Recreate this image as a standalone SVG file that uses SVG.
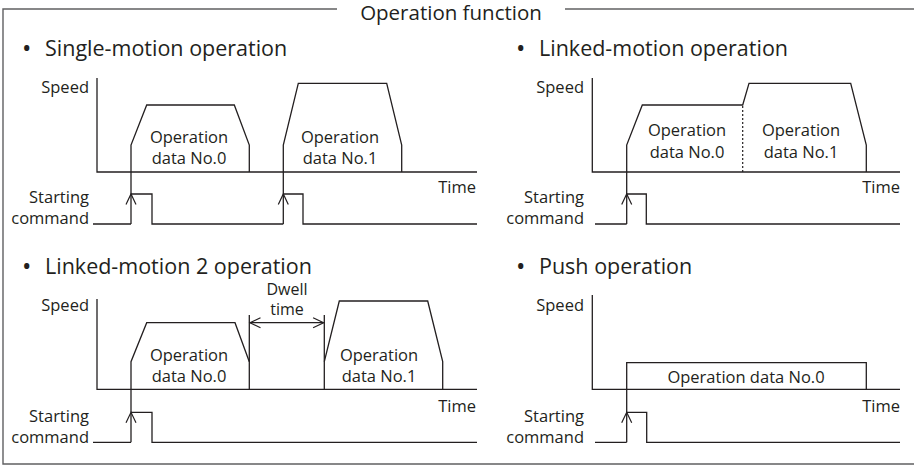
<svg xmlns="http://www.w3.org/2000/svg" width="914" height="466" viewBox="0 0 914 466">
<style>
.ln{fill:none;stroke:#231f20;stroke-width:1.3}
.fr{fill:none;stroke:#606062;stroke-width:1.4}
.dot{fill:none;stroke:#231f20;stroke-width:1.2;stroke-dasharray:2 2}
text{font-family:"Open Sans","Noto Sans",sans-serif;font-size:16.5px;fill:#231f20}
.h{font-size:21.5px}
.r{text-anchor:end}
.c{text-anchor:middle}
.b{font-size:25px}
.d{font-size:16px}
</style>
<defs>
<marker id="oa" markerUnits="userSpaceOnUse" markerWidth="14" markerHeight="14" viewBox="-12 -7 14 14" refX="0" refY="0" orient="auto-start-reverse" overflow="visible">
<path d="M-10.5,-5 L0,0 L-10.5,5" fill="none" stroke="#231f20" stroke-width="1.2"/>
</marker>
</defs>
<rect width="914" height="466" fill="#ffffff"/>
<g id="frame">
<path class="fr" d="M337,9 H3 V464 H916"/>
<path class="fr" d="M565,9 H916"/>
<text class="h c" x="451" y="20" style="font-size:20.5px">Operation function</text>
</g>
<g id="single-motion">
<text class="h"><tspan class="b" x="22" y="57">•</tspan><tspan x="45" y="56">Single-motion operation</tspan></text>
<path class="ln" d="M97,78 V172 H477"/>
<text class="r" x="89" y="93">Speed</text>
<text class="r" x="476" y="193">Time</text>
<path class="ln" d="M131,194 V145 L146.7,105 H234.3 L249.3,145 V172"/>
<path class="ln" d="M283.3,194 V145 L298.3,83.3 H386.7 L401.7,145 V172"/>
<text class="c" x="189" y="143">Operation</text>
<text class="c" x="189" y="164">data No.0</text>
<text class="c" x="340" y="143">Operation</text>
<text class="c" x="340" y="164">data No.1</text>
<text class="r" x="89" y="203">Starting</text>
<text class="r" x="89" y="224">command</text>
<path class="ln" d="M93,224 H131 M131,194 H152 V224 H283.3 M283.3,194 H303 V224 H477"/>
</g>
<g id="linked-motion">
<text class="h"><tspan class="b" x="516" y="57">•</tspan><tspan x="539" y="56">Linked-motion operation</tspan></text>
<path class="ln" d="M592.3,78 V172 H900"/>
<text class="r" x="584" y="93">Speed</text>
<text class="r" x="900" y="193">Time</text>
<path class="ln" d="M626.7,194 V145 L642.3,105 H742.7 L749,83.3 H850.7 L866.3,145 V172"/>
<path class="dot" d="M742.7,106 V172"/>
<text class="c" x="687" y="136">Operation</text>
<text class="c" x="687" y="158">data No.0</text>
<text class="c" x="801" y="136">Operation</text>
<text class="c" x="801" y="158">data No.1</text>
<text class="r" x="584" y="203">Starting</text>
<text class="r" x="584" y="224">command</text>
<path class="ln" d="M595,224 H626.7 M626.7,194 H646.3 V224 H900"/>
</g>
<g id="linked-motion-2">
<text class="h"><tspan class="b" x="22" y="275">•</tspan><tspan x="45" y="274">Linked-motion 2 operation</tspan></text>
<path class="ln" d="M97,299 V389.3 H477"/>
<text class="r" x="89" y="311">Speed</text>
<text class="r" x="476" y="412">Time</text>
<path class="ln" d="M131,412 V361.7 L146.7,322.7 H235 L249.3,361.7"/>
<path class="ln" d="M324.3,361.7 L339.3,301 H427.7 L442.7,361.7 V389.3"/>
<path class="ln" d="M249.3,315 V389.3 M324.3,315 V389.3"/>
<text class="c d" x="287" y="295">Dwell</text>
<text class="c d" x="287" y="315">time</text>
<text class="c" x="189" y="361">Operation</text>
<text class="c" x="189" y="382">data No.0</text>
<text class="c" x="379" y="361">Operation</text>
<text class="c" x="379" y="382">data No.1</text>
<text class="r" x="89" y="422">Starting</text>
<text class="r" x="89" y="443">command</text>
<path class="ln" d="M93,442.3 H131 M131,412.3 H152 V442.3 H477"/>
</g>
<g id="push">
<text class="h"><tspan class="b" x="516" y="275">•</tspan><tspan x="539" y="274">Push operation</tspan></text>
<path class="ln" d="M592.3,295 V389.3 H900"/>
<text class="r" x="584" y="311">Speed</text>
<text class="r" x="900" y="412">Time</text>
<path class="ln" d="M626.7,412.3 V362.7 H866.3 V389.3"/>
<text class="c" x="746" y="383">Operation data No.0</text>
<text class="r" x="584" y="422">Starting</text>
<text class="r" x="584" y="443">command</text>
<path class="ln" d="M595,442.3 H626.7 M626.7,412.3 H646.7 V442.3 H900"/>
</g>
<g id="connectors">
<line class="ln" x1="131" y1="224" x2="131" y2="194" marker-end="url(#oa)"/>
<line class="ln" x1="283.3" y1="224" x2="283.3" y2="194" marker-end="url(#oa)"/>
<line class="ln" x1="626.7" y1="224" x2="626.7" y2="194" marker-end="url(#oa)"/>
<line class="ln" x1="131" y1="442.3" x2="131" y2="412.3" marker-end="url(#oa)"/>
<line class="ln" x1="626.7" y1="442.3" x2="626.7" y2="412.3" marker-end="url(#oa)"/>
<line class="ln" x1="250" y1="322.7" x2="323.6" y2="322.7" marker-start="url(#oa)" marker-end="url(#oa)"/>
</g>
</svg>
